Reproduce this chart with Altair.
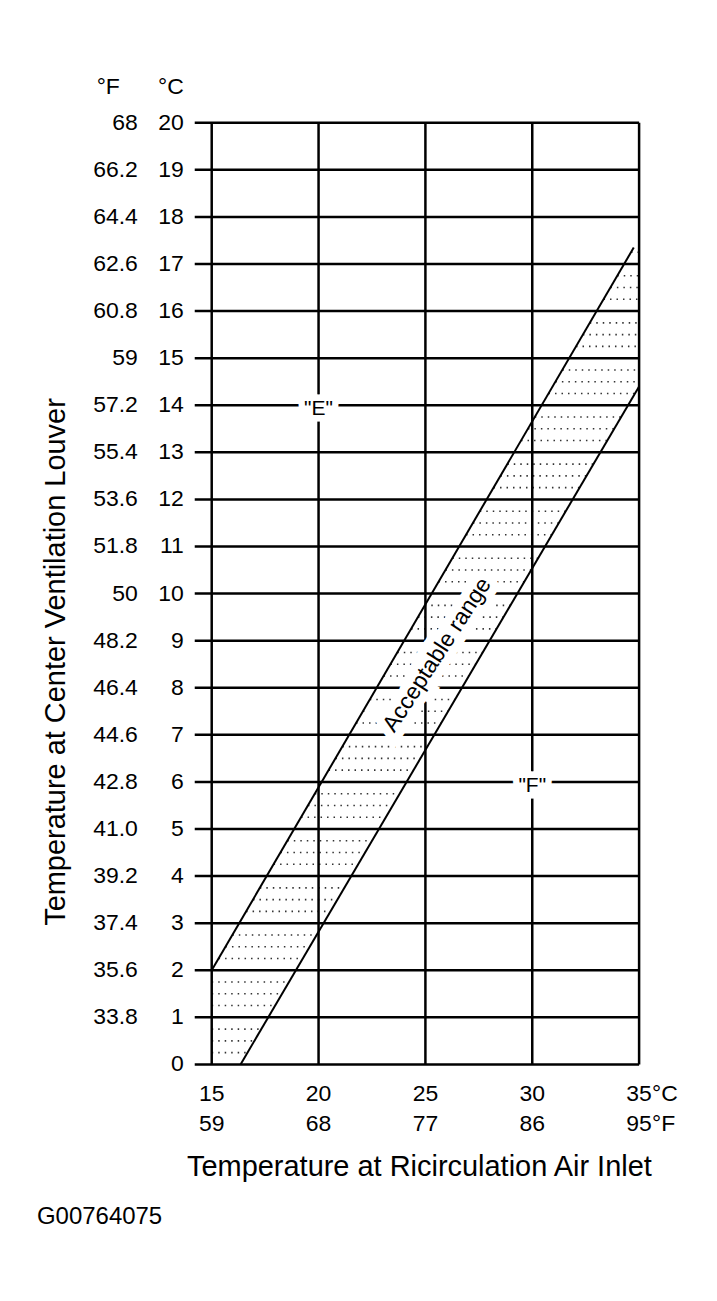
import altair as alt
import pandas as pd

FONT = "Liberation Sans"

# ---- data ----
celsius_y = list(range(0, 21))
celsius_y_labels = [str(v) for v in celsius_y]
fahrenheit_y_vals = list(range(1, 21))
fahrenheit_y_labels = ["33.8", "35.6", "37.4", "39.2", "41.0", "42.8", "44.6", "46.4",
                       "48.2", "50", "51.8", "53.6", "55.4", "57.2", "59", "60.8",
                       "62.6", "64.4", "66.2", "68"]
x_ticks = [15, 20, 25, 30, 35]
x_c_labels = ["15", "20", "25", "30", "35"]
x_f_labels = ["59", "68", "77", "86", "95"]

upper_x = [15, 34.75]
upper_y = [2, 17.35]
lower_x = [16.35, 35]
lower_y = [0, 14.4]

label_x = [20, 30]
label_y = [14, 6]
label_text = ['"E"', '"F"']

band_label_x = [25.55]
band_label_y = [8.7]
band_label_text = ["Acceptable range"]

y_title = "Temperature at Center Ventilation Louver"
x_title = "Temperature at Ricirculation Air Inlet"
code_text = "G00764075"

# ---- derived ----
su = (upper_y[1] - upper_y[0]) / (upper_x[1] - upper_x[0])
sl = (lower_y[1] - lower_y[0]) / (lower_x[1] - lower_x[0])

xs = alt.Scale(domain=[15, 35], nice=False, zero=False)
ys = alt.Scale(domain=[0, 20], nice=False, zero=False)

W, H = 428, 943


def X(f):
    return alt.X(f, scale=xs, axis=None)


def Y(f):
    return alt.Y(f, scale=ys, axis=None)


def txt(**kw):
    base = dict(font=FONT, fontSize=23, color="black")
    base.update(kw)
    return base


# dotted texture inside the band
dots = alt.Chart(alt.sequence(0.25, 17.5, 0.25, as_="yv")).transform_filter(
    "datum.yv % 1 != 0"
).transform_calculate(
    x1=f"max({upper_x[0]}, {upper_x[0]} + (datum.yv - {upper_y[0]}) / {su})",
    x2=f"min({lower_x[1]}, {lower_x[0]} + (datum.yv - {lower_y[0]}) / {sl})",
).transform_filter("datum.x2 > datum.x1").mark_rule(
    strokeDash=[1.5, 5], strokeWidth=1.6, color="#333"
).encode(x=X("x1:Q"), x2="x2:Q", y=Y("yv:Q"))

# grid lines (with left ticks)
hgrid = alt.Chart(pd.DataFrame({"c": celsius_y})).mark_rule(
    color="black", strokeWidth=2.5).encode(
    y=Y("c:Q"), x=alt.value(-17), x2=alt.value(W))
vgrid = alt.Chart(pd.DataFrame({"x": x_ticks})).mark_rule(
    color="black", strokeWidth=2.5).encode(
    x=X("x:Q"), y=alt.value(0), y2=alt.value(H))

upper = alt.Chart(pd.DataFrame({"x": upper_x, "y": upper_y})).mark_line(
    color="black", strokeWidth=2).encode(x=X("x:Q"), y=Y("y:Q"))
lower = alt.Chart(pd.DataFrame({"x": lower_x, "y": lower_y})).mark_line(
    color="black", strokeWidth=2).encode(x=X("x:Q"), y=Y("y:Q"))

lab_df = pd.DataFrame({"x": label_x, "y": label_y, "t": label_text})
lab_halo = alt.Chart(lab_df).mark_text(**txt(
    fontSize=21, color="white", stroke="white", strokeWidth=13,
    align="center", baseline="middle", dy=4)).encode(x=X("x:Q"), y=Y("y:Q"), text="t:N")
lab_text = alt.Chart(lab_df).mark_text(**txt(
    fontSize=21, align="center", baseline="middle", dy=4)).encode(
    x=X("x:Q"), y=Y("y:Q"), text="t:N")

band_df = pd.DataFrame({"x": band_label_x, "y": band_label_y, "t": band_label_text})
band_halo = alt.Chart(band_df).mark_text(**txt(
    fontSize=23, color="white", stroke="white", strokeWidth=17,
    align="center", baseline="middle", angle=303)).encode(
    x=X("x:Q"), y=Y("y:Q"), text="t:N")
band_text = alt.Chart(band_df).mark_text(**txt(
    fontSize=23, align="center", baseline="middle", angle=303)).encode(
    x=X("x:Q"), y=Y("y:Q"), text="t:N")

# left labels
c_df = pd.DataFrame({"y": celsius_y, "t": celsius_y_labels})
c_labels = alt.Chart(c_df).mark_text(**txt(align="right", baseline="middle")).encode(
    x=alt.value(-28), y=Y("y:Q"), text="t:N")
f_df = pd.DataFrame({"y": fahrenheit_y_vals, "t": fahrenheit_y_labels})
f_labels = alt.Chart(f_df).mark_text(**txt(align="right", baseline="middle")).encode(
    x=alt.value(-74), y=Y("y:Q"), text="t:N")

hdr_f = alt.Chart(pd.DataFrame({"t": ["°F"]})).mark_text(
    **txt(align="right", baseline="middle")).encode(
    x=alt.value(-92), y=alt.value(-36), text="t:N")
hdr_c = alt.Chart(pd.DataFrame({"t": ["°C"]})).mark_text(
    **txt(align="right", baseline="middle")).encode(
    x=alt.value(-28), y=alt.value(-36), text="t:N")

# bottom labels
xc_df = pd.DataFrame({"x": x_ticks, "c": x_c_labels, "f": x_f_labels})
xc_labels = alt.Chart(xc_df).mark_text(**txt(align="center", baseline="middle")).encode(
    x=X("x:Q"), y=alt.value(973), text="c:N")
xf_labels = alt.Chart(xc_df).mark_text(**txt(align="center", baseline="middle")).encode(
    x=X("x:Q"), y=alt.value(1003), text="f:N")

unit_c = alt.Chart(pd.DataFrame({"x": [x_ticks[-1]], "t": ["°C"]})).mark_text(
    **txt(align="left", baseline="middle", dx=13)).encode(
    x=X("x:Q"), y=alt.value(973), text="t:N")
unit_f = alt.Chart(pd.DataFrame({"x": [x_ticks[-1]], "t": ["°F"]})).mark_text(
    **txt(align="left", baseline="middle", dx=13)).encode(
    x=X("x:Q"), y=alt.value(1003), text="t:N")

# titles
ytitle = alt.Chart(pd.DataFrame({"t": [y_title]})).mark_text(
    **txt(fontSize=29, align="center", baseline="alphabetic", angle=270)).encode(
    x=alt.value(-147), y=alt.value(540), text="t:N")
xtitle = alt.Chart(pd.DataFrame({"t": [x_title]})).mark_text(
    **txt(fontSize=29, align="center", baseline="alphabetic")).encode(
    x=alt.value(208), y=alt.value(1055), text="t:N")

code = alt.Chart(pd.DataFrame({"t": [code_text]})).mark_text(
    **txt(fontSize=24, align="left", baseline="alphabetic")).encode(
    x=alt.value(-175), y=alt.value(1103), text="t:N")

chart = alt.layer(
    dots, hgrid, vgrid, lab_halo, lab_text, band_halo, band_text, upper, lower,
    c_labels, f_labels, hdr_f, hdr_c, xc_labels, xf_labels, unit_c, unit_f,
    ytitle, xtitle, code,
).properties(
    width=W, height=H,
    autosize=alt.AutoSizeParams(type="none"),
    padding={"left": 204, "top": 114, "right": 70, "bottom": 228},
    background="white",
).configure_view(strokeWidth=0)

chart.save("out.html", embed_options={"renderer": "svg", "actions": False})
